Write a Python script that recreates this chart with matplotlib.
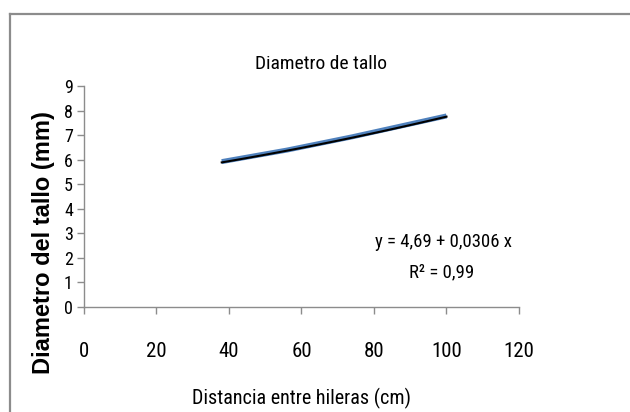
import matplotlib.pyplot as plt
import numpy as np
from matplotlib.lines import Line2D

# Data
distancia = [38, 56, 74, 100]
diametro = [5.92, 6.39, 6.93, 7.78]
x_ticks = [0, 20, 40, 60, 80, 100, 120]
y_ticks = list(range(0, 10))

narrow = ['Roboto Condensed', 'DejaVu Sans']
regular = ['Liberation Sans', 'DejaVu Sans']

fig = plt.figure(figsize=(6.30, 4.12), dpi=100)
ax = fig.add_axes([0.1333, 0.2549, 0.6905, 0.5364])

# Data line (blue) and the trend line (black) on top
ax.plot(distancia, diametro, color='#4f81bd', lw=3.6, solid_capstyle='butt')
coef = np.polyfit(distancia, diametro, 2)
xs = np.linspace(min(distancia), max(distancia), 100)
ax.plot(xs, np.polyval(coef, xs) - 0.03, color='black', lw=1.5)

ax.set_xlim(0, 120)
ax.set_ylim(0, 9)
ax.set_xticks(x_ticks)
ax.set_yticks(y_ticks)
ax.set_xticklabels([str(v) for v in x_ticks], family=narrow, fontsize=15)
ax.set_yticklabels([str(v) for v in y_ticks], family=narrow, fontsize=13)

for side in ['top', 'right']:
    ax.spines[side].set_visible(False)
for side in ['left', 'bottom']:
    ax.spines[side].set_color('#8c8c8c')
    ax.spines[side].set_linewidth(1.0)
ax.tick_params(axis='both', direction='out', length=5, color='#8c8c8c', width=1.0)
ax.tick_params(axis='x', pad=20)
ax.tick_params(axis='y', pad=3)

fig.text(321 / 630, 1 - 64 / 412, 'Diametro de tallo', family=narrow,
         fontsize=14, ha='center', va='center')
fig.text(301 / 630, 1 - 398 / 412, 'Distancia entre hileras (cm)', family=narrow,
         fontsize=14.5, ha='center', va='center')
fig.text(44 / 630, 1 - 243 / 412, 'Diametro del tallo (mm)', family=regular,
         fontsize=17, fontweight='bold', rotation=90, ha='center', va='center')

ax.text(443 / 630, 1 - 242 / 412, 'y = 4,69 + 0,0306 x', transform=fig.transFigure,
        family=narrow, fontsize=13.5, ha='center', va='center')
ax.text(442 / 630, 1 - 272 / 412, 'R² = 0,99', transform=fig.transFigure,
        family=narrow, fontsize=13.5, ha='center', va='center')

# Outer frame of the chart area
fig.add_artist(Line2D([10 / 630, 1.0], [1 - 14 / 412, 1 - 14 / 412],
                      transform=fig.transFigure, color='#8c8c8c', lw=1.6))
fig.add_artist(Line2D([10 / 630, 10 / 630], [0.0, 1 - 14 / 412],
                      transform=fig.transFigure, color='#8c8c8c', lw=1.6))

fig.savefig('out.png', dpi=100)
